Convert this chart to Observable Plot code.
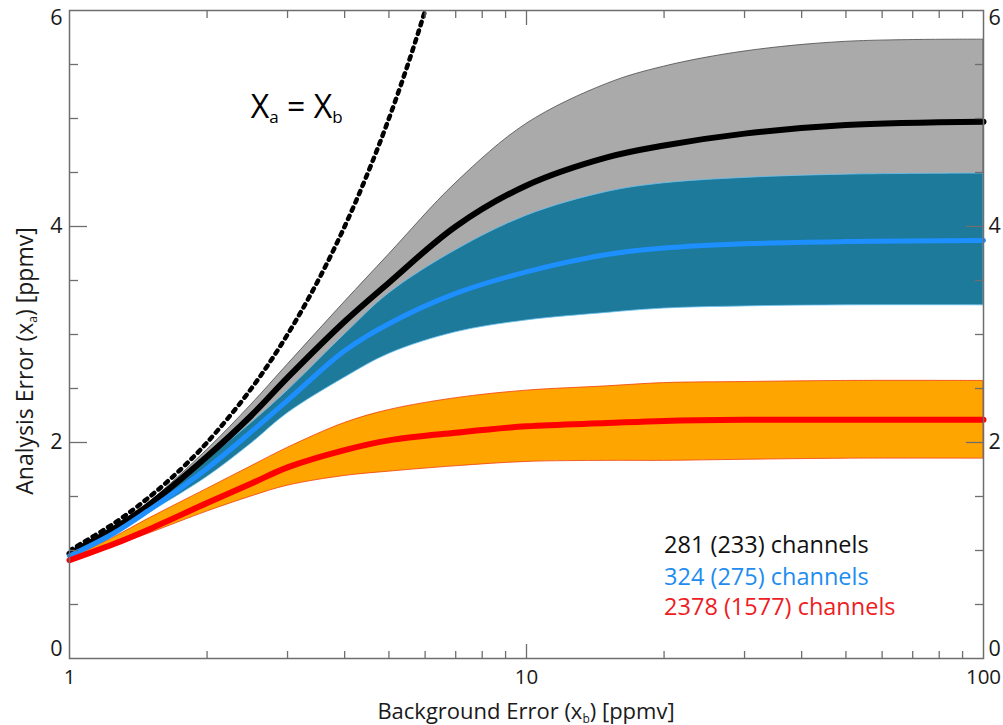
<!DOCTYPE html>
<html><head><meta charset="utf-8">
<script src="https://cdn.jsdelivr.net/npm/d3@7"></script>
<script src="https://cdn.jsdelivr.net/npm/@observablehq/plot@0.6"></script>
<style>body{margin:0;background:#fff;} #chart svg{display:block;}</style>
</head><body><div id="chart"></div>
<script>
// Background error x_b [ppmv]
const xb = [1, 1.25, 1.5, 2, 2.5, 3, 4, 5, 7, 10, 15, 20, 30, 50, 100];
// 281 (233) channels: black mean and grey spread
const blackMean = [0.97, 1.20, 1.43, 1.87, 2.25, 2.60, 3.12, 3.48, 4.00, 4.38, 4.64, 4.75, 4.86, 4.94, 4.97];
const grayHi    = [0.98, 1.21, 1.45, 1.93, 2.35, 2.72, 3.30, 3.74, 4.40, 4.95, 5.32, 5.48, 5.62, 5.71, 5.73];
const grayLo    = [0.95, 1.16, 1.39, 1.80, 2.13, 2.43, 2.95, 3.32, 3.72, 4.05, 4.27, 4.35, 4.41, 4.45, 4.46];
// 324 (275) channels: blue mean and teal spread
const blueMean  = [0.95, 1.16, 1.38, 1.76, 2.10, 2.39, 2.85, 3.10, 3.38, 3.58, 3.74, 3.80, 3.84, 3.86, 3.87];
const tealHi    = [0.96, 1.18, 1.41, 1.84, 2.18, 2.48, 3.00, 3.38, 3.78, 4.10, 4.32, 4.40, 4.45, 4.48, 4.49];
const tealLo    = [0.94, 1.14, 1.35, 1.68, 1.99, 2.27, 2.60, 2.82, 3.02, 3.13, 3.20, 3.24, 3.26, 3.27, 3.27];
// 2378 (1577) channels: red mean and orange spread
const redMean   = [0.91, 1.06, 1.20, 1.44, 1.62, 1.77, 1.93, 2.02, 2.09, 2.15, 2.18, 2.20, 2.21, 2.21, 2.21];
const orangeHi  = [0.92, 1.12, 1.30, 1.57, 1.78, 1.95, 2.18, 2.30, 2.41, 2.48, 2.52, 2.55, 2.56, 2.57, 2.57];
const orangeLo  = [0.89, 1.04, 1.16, 1.36, 1.50, 1.60, 1.69, 1.73, 1.78, 1.82, 1.83, 1.83, 1.84, 1.85, 1.85];
// x_a = x_b reference line
const diagX = [1, 1.25, 1.5, 1.75, 2, 2.5, 3, 3.5, 4, 4.5, 5, 5.5, 6, 6.5];
const diagY = [1, 1.25, 1.5, 1.75, 2, 2.5, 3, 3.5, 4, 4.5, 5, 5.5, 6, 6.5];
// legend
const legendLabels = ["281 (233) channels", "324 (275) channels", "2378 (1577) channels"];
const legendColors = ["#111111", "#1e8cf0", "#ee1c24"];
// ticks
const xMajor = [1, 10, 100];
const xMinor = [2, 3, 4, 5, 6, 7, 8, 9, 20, 30, 40, 50, 60, 70, 80, 90];
const yMajorInner = [2, 4];
const yMinor = [0.5, 1, 1.5, 2.5, 3, 3.5, 4.5, 5, 5.5];

const rows = (lo, mid, hi) => xb.map((x, i) => ({x, lo: lo[i], mid: mid[i], hi: hi[i]}));
const grayRows = rows(grayLo, blackMean, grayHi);
const tealRows = rows(tealLo, blueMean, tealHi);
const orangeRows = rows(orangeLo, redMean, orangeHi);
const diag = diagX.map((x, i) => ({x, y: diagY[i]}));

const tickCol = "#6e6e6e";
const labCol = "#1a1a1a";
const curve = "catmull-rom";
const fmt = d => String(d);

const chart = Plot.plot({
  width: 1003, height: 725,
  marginLeft: 69, marginRight: 20, marginTop: 10, marginBottom: 67,
  style: {fontFamily: "Open Sans", background: "#fff"},
  x: {type: "log", domain: [1, 100], axis: null},
  y: {domain: [0, 6], axis: null},
  marks: [
    Plot.areaY(grayRows, {x: "x", y1: "lo", y2: "hi", fill: "#aaaaaa", stroke: "#4a4a4a", strokeWidth: 0.8, curve}),
    Plot.areaY(tealRows, {x: "x", y1: "lo", y2: "hi", fill: "#1d7a9b", stroke: "#6cc0f0", strokeWidth: 0.8, curve}),
    Plot.areaY(orangeRows, {x: "x", y1: "lo", y2: "hi", fill: "#ffa500", stroke: "#f04010", strokeWidth: 0.8, curve}),
    Plot.line(grayRows, {x: "x", y: "mid", stroke: "#000", strokeWidth: 6, curve}),
    Plot.line(tealRows, {x: "x", y: "mid", stroke: "#1e8fff", strokeWidth: 5, curve}),
    Plot.line(orangeRows, {x: "x", y: "mid", stroke: "#ff0000", strokeWidth: 6, curve}),
    Plot.line(diag, {x: "x", y: "y", stroke: "#000", strokeWidth: 4.5, strokeDasharray: "3.5 5.5", curve, clip: true}),
    Plot.frame({stroke: tickCol, strokeWidth: 1.5}),
    // inward ticks
    Plot.axisX(xMinor, {anchor: "bottom", tickSize: 7, dy: -7, fill: "none", stroke: tickCol, strokeWidth: 1.3, label: null}),
    Plot.axisX(xMinor, {anchor: "top", tickSize: 7, dy: 7, fill: "none", stroke: tickCol, strokeWidth: 1.3, label: null}),
    Plot.axisX([10], {anchor: "bottom", tickSize: 14, dy: -14, fill: "none", stroke: tickCol, strokeWidth: 1.3, label: null}),
    Plot.axisX([10], {anchor: "top", tickSize: 14, dy: 14, fill: "none", stroke: tickCol, strokeWidth: 1.3, label: null}),
    Plot.axisY(yMinor, {anchor: "left", tickSize: 9, dx: 9, fill: "none", stroke: tickCol, strokeWidth: 1.3, label: null}),
    Plot.axisY(yMinor, {anchor: "right", tickSize: 9, dx: -9, fill: "none", stroke: tickCol, strokeWidth: 1.3, label: null}),
    Plot.axisY(yMajorInner, {anchor: "left", tickSize: 18, dx: 18, fill: "none", stroke: tickCol, strokeWidth: 1.3, label: null}),
    Plot.axisY(yMajorInner, {anchor: "right", tickSize: 18, dx: -18, fill: "none", stroke: tickCol, strokeWidth: 1.3, label: null}),
    // tick labels
    Plot.axisX(xMajor, {anchor: "bottom", tickSize: 0, tickPadding: 11, fontSize: 20.5, fill: labCol, tickFormat: fmt, label: null}),
    Plot.axisY([2, 4], {anchor: "left", tickSize: 0, tickPadding: 7, fontSize: 21.5, fill: labCol, tickFormat: fmt, label: null}),
    Plot.axisY([6], {anchor: "left", tickSize: 0, tickPadding: 7, dy: 8, fontSize: 21.5, fill: labCol, tickFormat: fmt, label: null}),
    Plot.axisY([0], {anchor: "left", tickSize: 0, tickPadding: 7, dy: -9, fontSize: 21.5, fill: labCol, tickFormat: fmt, label: null}),
    Plot.axisY([2, 4], {anchor: "right", tickSize: 0, tickPadding: 5, fontSize: 21.5, fill: labCol, tickFormat: fmt, label: null}),
    Plot.axisY([6], {anchor: "right", tickSize: 0, tickPadding: 5, dy: 8, fontSize: 21.5, fill: labCol, tickFormat: fmt, label: null}),
    Plot.axisY([0], {anchor: "right", tickSize: 0, tickPadding: 5, dy: -9, fontSize: 21.5, fill: labCol, tickFormat: fmt, label: null}),
    // legend text
    Plot.text(legendLabels, {x: 20, y: (d, i) => [1.05, 0.75, 0.47][i], text: d => d, textAnchor: "start", fontSize: 23.5, fill: (d, i) => legendColors[i]})
  ]
});
document.getElementById("chart").appendChild(chart);

const sx = chart.scale("x"), sy = chart.scale("y");
const svg = d3.select(chart);
// x-axis title
const xt = svg.append("text").attr("x", sx.apply(10)).attr("y", 718.5).attr("text-anchor", "middle")
  .attr("font-size", 22).attr("fill", labCol);
xt.append("tspan").text("Background Error (x");
xt.append("tspan").attr("font-size", 12).attr("dy", 4).text("b");
xt.append("tspan").attr("dy", -4).text(") [ppmv]");
// y-axis title
const yt = svg.append("text").attr("transform", `translate(33,${sy.apply(2.75)}) rotate(-90)`).attr("text-anchor", "middle")
  .attr("font-size", 23).attr("fill", labCol);
yt.append("tspan").text("Analysis Error (x");
yt.append("tspan").attr("font-size", 12).attr("dy", 4).text("a");
yt.append("tspan").attr("dy", -4).text(") [ppmv]");
// x_a = x_b annotation
const an = svg.append("text").attr("x", sx.apply(2.5)).attr("y", sy.apply(5)).attr("text-anchor", "start")
  .attr("font-size", 32).attr("fill", "#000");
an.append("tspan").text("X");
an.append("tspan").attr("font-size", 17).attr("dy", 5).text("a");
an.append("tspan").attr("dy", -5).text(" = X");
an.append("tspan").attr("font-size", 17).attr("dy", 5).text("b");
</script>
</body></html>
